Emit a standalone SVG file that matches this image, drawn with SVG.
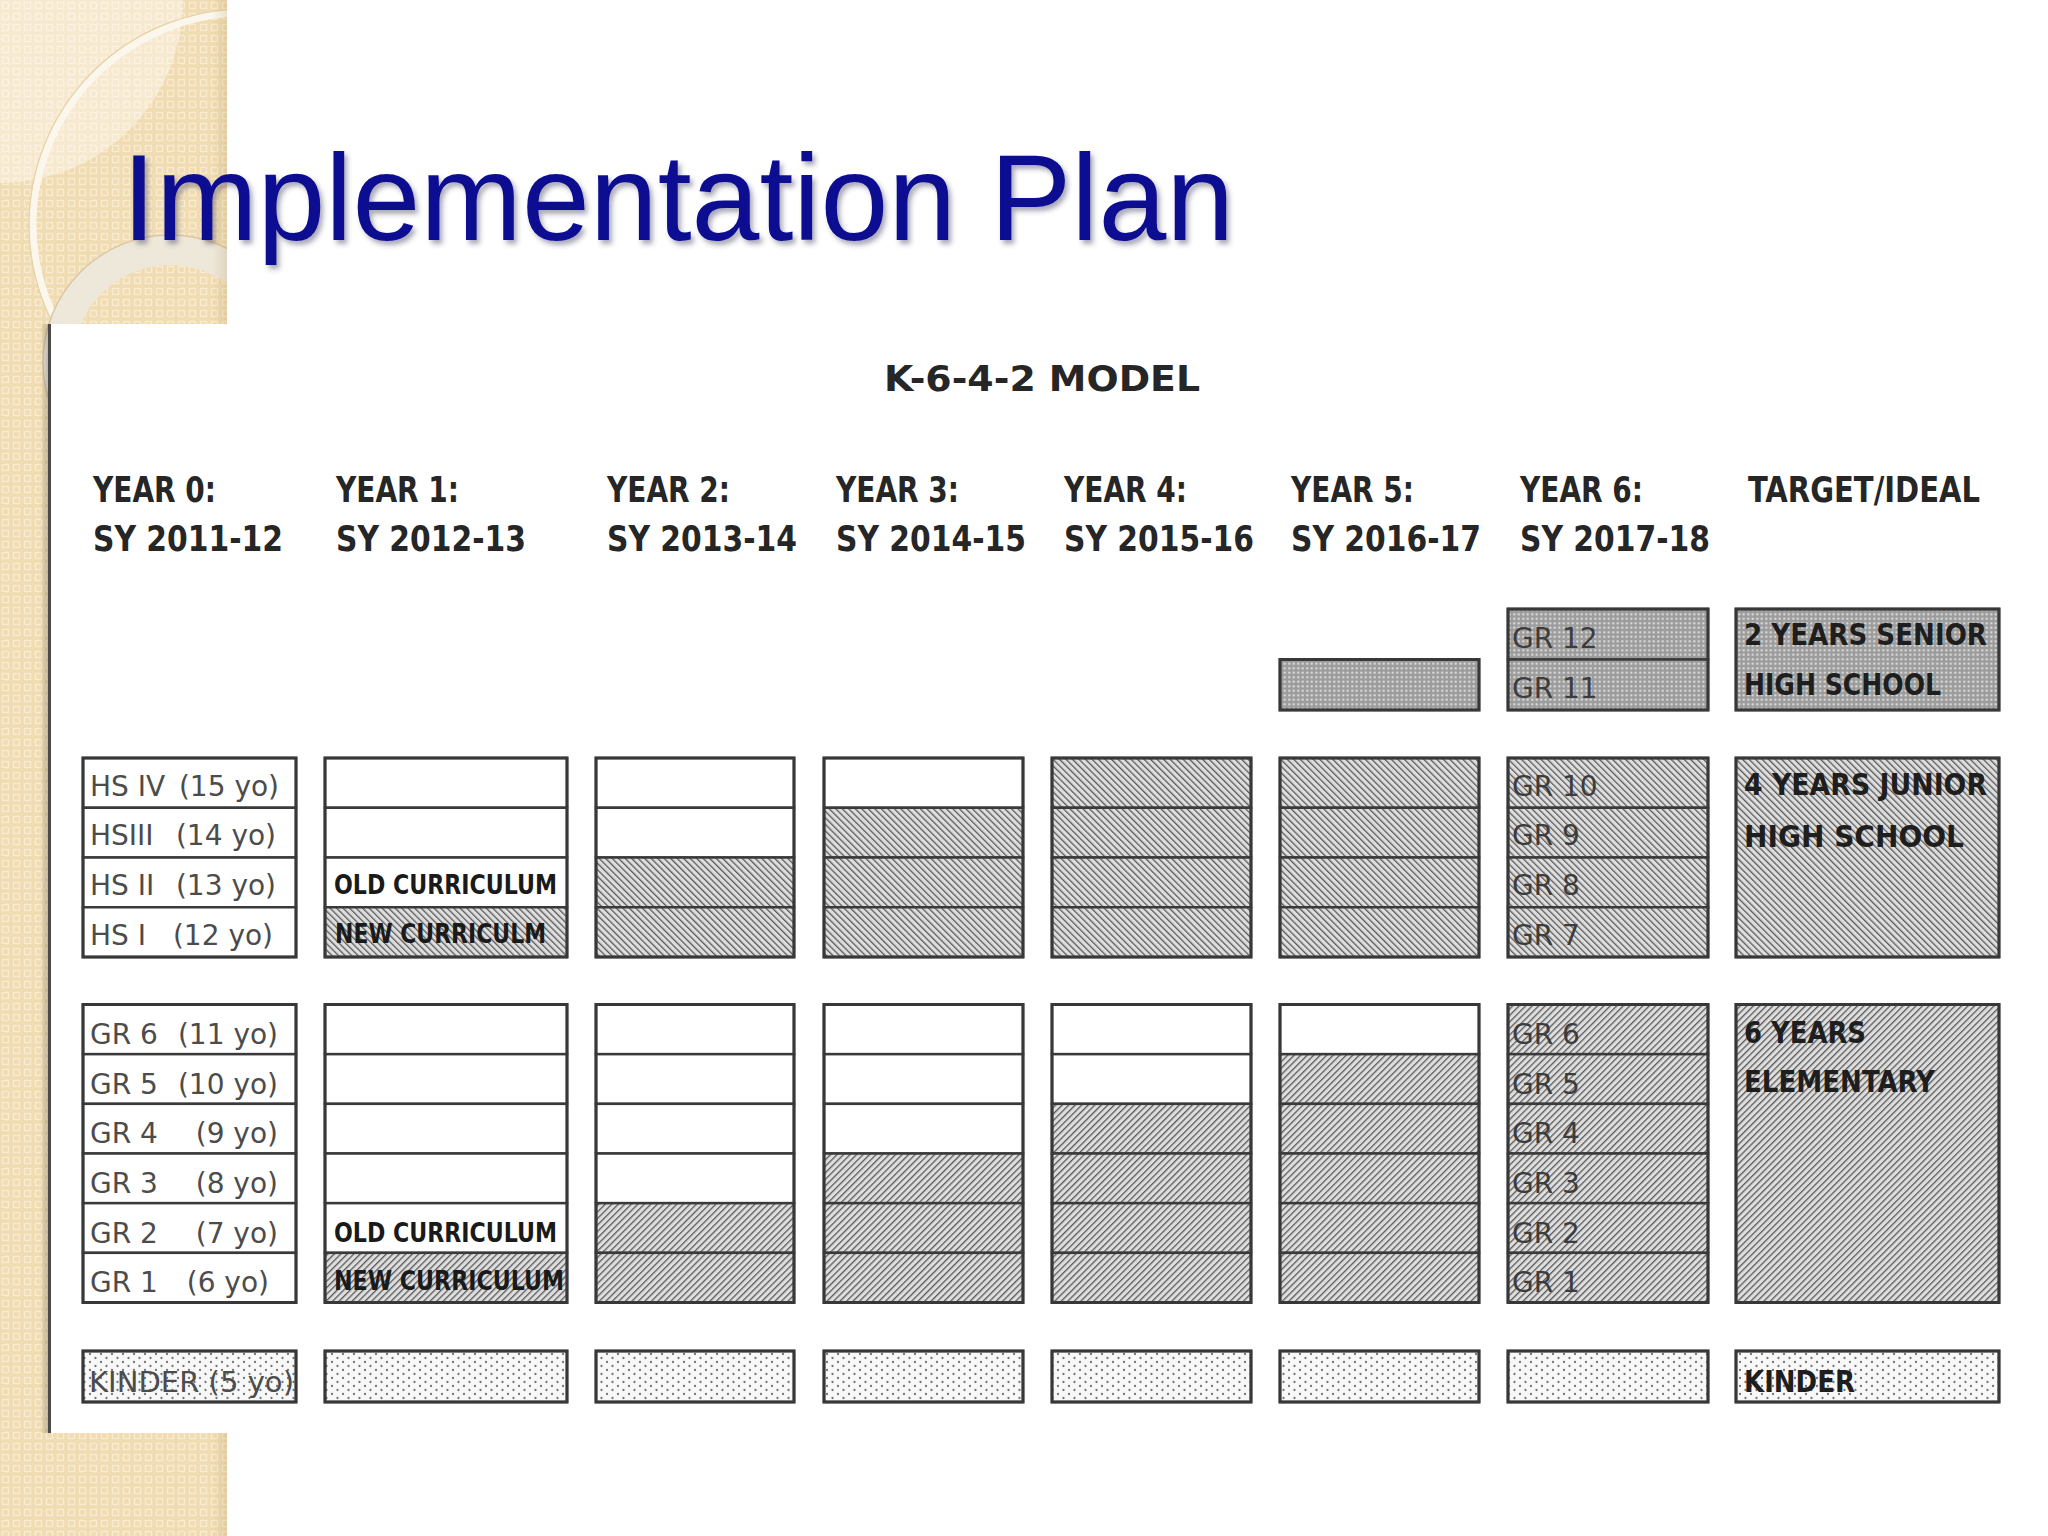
<svg xmlns="http://www.w3.org/2000/svg" width="2048" height="1536" viewBox="0 0 2048 1536">
<defs>
<pattern id="beige" patternUnits="userSpaceOnUse" width="11" height="11">
<rect width="11" height="11" fill="#f0dcb2"/>
<rect x="2.5" y="2.5" width="6" height="6" fill="none" stroke="#f8ebcf" stroke-width="1.5"/>
</pattern>
<pattern id="hatchB" patternUnits="userSpaceOnUse" width="4.6" height="4.6" patternTransform="rotate(-45)">
<rect width="4.6" height="4.6" fill="#dedede"/>
<rect width="1.3" height="4.6" fill="#595959"/>
</pattern>
<pattern id="hatchF" patternUnits="userSpaceOnUse" width="4.6" height="4.6" patternTransform="rotate(45)">
<rect width="4.6" height="4.6" fill="#dedede"/>
<rect width="1.3" height="4.6" fill="#595959"/>
</pattern>
<pattern id="dotsDark" patternUnits="userSpaceOnUse" width="4.5" height="4.5">
<rect width="4.5" height="4.5" fill="#9c9c9c"/>
<circle cx="2.25" cy="2.25" r="1.15" fill="#e0e0e0"/>
</pattern>
<pattern id="dotsLight" patternUnits="userSpaceOnUse" width="11" height="8">
<rect width="11" height="8" fill="#f8f8f8"/>
<circle cx="2" cy="2" r="1.15" fill="#767676"/>
<circle cx="7.5" cy="6" r="1.15" fill="#767676"/>
</pattern>
<clipPath id="stripClip"><rect x="0" y="0" width="227" height="1536"/></clipPath>
<linearGradient id="edgeShade" x1="0" y1="0" x2="1" y2="0">
<stop offset="0" stop-color="#a08040" stop-opacity="0"/>
<stop offset="1" stop-color="#a08040" stop-opacity="0.18"/>
</linearGradient>
<linearGradient id="panelShade" x1="0" y1="0" x2="1" y2="0">
<stop offset="0" stop-color="#000" stop-opacity="0"/>
<stop offset="1" stop-color="#000" stop-opacity="0.22"/>
</linearGradient>
<filter id="titleShadow" x="-5%" y="-20%" width="110%" height="150%">
<feDropShadow dx="3" dy="4" stdDeviation="2.5" flood-color="#404060" flood-opacity="0.45"/>
</filter>
<style>
.cell{stroke:#3a3a3a;stroke-width:2.5}
.outer{fill:none;stroke:#383838;stroke-width:3}
.w{fill:#ffffff}
.hb{fill:url(#hatchB)}
.hf{fill:url(#hatchF)}
.sd{fill:url(#dotsDark)}
.kd{fill:url(#dotsLight)}
.hdr{font-family:"DejaVu Sans Condensed","DejaVu Sans",sans-serif;font-weight:bold;font-size:35px;fill:#262626}
.lbl{font-family:"DejaVu Sans",sans-serif;font-size:28px;fill:#4c4c4c}
.glbl{font-family:"DejaVu Sans",sans-serif;font-size:28px;fill:#3c3c3c}
.cur{font-family:"DejaVu Sans Condensed","DejaVu Sans",sans-serif;font-weight:bold;font-size:26px;fill:#1a1a1a}
.tgt{font-family:"DejaVu Sans Condensed","DejaVu Sans",sans-serif;font-weight:bold;font-size:30px;fill:#1e1e1e}
</style>
</defs>

<!-- slide background -->
<rect x="0" y="0" width="2048" height="1536" fill="#ffffff"/>
<g id="beige-strip">
<rect x="0" y="0" width="227" height="1536" fill="url(#beige)"/>
<g clip-path="url(#stripClip)">
<path d="M0 0 L183 0 A183 183 0 0 1 0 183 Z" fill="#ffffff" opacity="0.38"/>
<circle cx="245" cy="225" r="212" fill="none" stroke="#fcf7ec" stroke-width="7"/>
<circle cx="245" cy="225" r="216" fill="none" stroke="#e6d2a8" stroke-width="1.2"/>
<circle cx="170" cy="362" r="112" fill="none" stroke="#eee8da" stroke-width="30"/>
<circle cx="170" cy="362" r="127" fill="none" stroke="#d8c7a4" stroke-width="1.5"/>
</g>
<rect x="212" y="0" width="15" height="1536" fill="url(#edgeShade)"/>
</g>

<!-- white panel holding the chart -->
<g id="panel">
<rect x="40" y="324" width="9" height="1109" fill="url(#panelShade)"/>
<rect x="48" y="324" width="2000" height="1109" fill="#ffffff"/>
<line x1="49.5" y1="324" x2="49.5" y2="1433" stroke="#4a4a4a" stroke-width="3"/>
</g>

<!-- title -->
<text id="title" x="122" y="240" font-family="'Liberation Sans',Arial,sans-serif" font-size="122" fill="#0b0b92" filter="url(#titleShadow)">Implementation Plan</text>

<g id="chart-title">
<text class="hdr" x="884" y="391" font-size="45" textLength="316" lengthAdjust="spacingAndGlyphs">K-6-4-2 MODEL</text>
</g>

<g id="headers">
<text class="hdr" x="93" y="502" textLength="123" lengthAdjust="spacingAndGlyphs">YEAR 0:</text>
<text class="hdr" x="93" y="551" textLength="190" lengthAdjust="spacingAndGlyphs">SY 2011-12</text>
<text class="hdr" x="336" y="502" textLength="123" lengthAdjust="spacingAndGlyphs">YEAR 1:</text>
<text class="hdr" x="336" y="551" textLength="190" lengthAdjust="spacingAndGlyphs">SY 2012-13</text>
<text class="hdr" x="607" y="502" textLength="123" lengthAdjust="spacingAndGlyphs">YEAR 2:</text>
<text class="hdr" x="607" y="551" textLength="190" lengthAdjust="spacingAndGlyphs">SY 2013-14</text>
<text class="hdr" x="836" y="502" textLength="123" lengthAdjust="spacingAndGlyphs">YEAR 3:</text>
<text class="hdr" x="836" y="551" textLength="190" lengthAdjust="spacingAndGlyphs">SY 2014-15</text>
<text class="hdr" x="1064" y="502" textLength="123" lengthAdjust="spacingAndGlyphs">YEAR 4:</text>
<text class="hdr" x="1064" y="551" textLength="190" lengthAdjust="spacingAndGlyphs">SY 2015-16</text>
<text class="hdr" x="1291" y="502" textLength="123" lengthAdjust="spacingAndGlyphs">YEAR 5:</text>
<text class="hdr" x="1291" y="551" textLength="190" lengthAdjust="spacingAndGlyphs">SY 2016-17</text>
<text class="hdr" x="1520" y="502" textLength="123" lengthAdjust="spacingAndGlyphs">YEAR 6:</text>
<text class="hdr" x="1520" y="551" textLength="190" lengthAdjust="spacingAndGlyphs">SY 2017-18</text>
<text class="hdr" x="1748" y="502" textLength="232" lengthAdjust="spacingAndGlyphs">TARGET/IDEAL</text>
</g>

<!-- SENIOR HIGH SCHOOL row -->
<g id="senior-y5">
<rect class="cell sd" x="1280" y="659.5" width="199" height="50.5"/>
<rect class="outer" x="1280" y="659.5" width="199" height="50.5"/>
</g>
<g id="senior-y6">
<rect class="cell sd" x="1508" y="609" width="200" height="50.5"/>
<rect class="cell sd" x="1508" y="659.5" width="200" height="50.5"/>
<rect class="outer" x="1508" y="609" width="200" height="101"/>
<text class="glbl" x="1512" y="648">GR 12</text>
<text class="glbl" x="1512" y="698">GR 11</text>
</g>
<g id="senior-target">
<rect class="cell sd" x="1736" y="609" width="263" height="101"/>
<rect class="outer" x="1736" y="609" width="263" height="101"/>
<text class="tgt" x="1744" y="645" textLength="243" lengthAdjust="spacingAndGlyphs">2 YEARS SENIOR</text>
<text class="tgt" x="1744" y="695" textLength="197" lengthAdjust="spacingAndGlyphs">HIGH SCHOOL</text>
</g>

<!-- JUNIOR HIGH SCHOOL rows -->
<g id="junior-y0">
<rect class="cell w" x="83" y="758" width="213" height="49.75"/>
<rect class="cell w" x="83" y="807.75" width="213" height="49.75"/>
<rect class="cell w" x="83" y="857.5" width="213" height="49.75"/>
<rect class="cell w" x="83" y="907.25" width="213" height="49.75"/>
<rect class="outer" x="83" y="758" width="213" height="199"/>
<text class="lbl" x="90" y="796">HS IV <tspan x="279" text-anchor="end">(15 yo)</tspan></text>
<text class="lbl" x="90" y="845">HSIII <tspan x="276" text-anchor="end">(14 yo)</tspan></text>
<text class="lbl" x="90" y="895">HS II <tspan x="276" text-anchor="end">(13 yo)</tspan></text>
<text class="lbl" x="90" y="945">HS I <tspan x="273" text-anchor="end">(12 yo)</tspan></text>
</g>
<g id="junior-y1">
<rect class="cell w" x="325" y="758" width="242" height="49.75"/>
<rect class="cell w" x="325" y="807.75" width="242" height="49.75"/>
<rect class="cell w" x="325" y="857.5" width="242" height="49.75"/>
<rect class="cell hb" x="325" y="907.25" width="242" height="49.75"/>
<rect class="outer" x="325" y="758" width="242" height="199"/>
<text class="cur" x="334" y="894" textLength="223" lengthAdjust="spacingAndGlyphs">OLD CURRICULUM</text>
<text class="cur" x="335" y="943" textLength="211" lengthAdjust="spacingAndGlyphs">NEW CURRICULM</text>
</g>
<g id="junior-y2">
<rect class="cell w" x="596" y="758" width="198" height="49.75"/>
<rect class="cell w" x="596" y="807.75" width="198" height="49.75"/>
<rect class="cell hb" x="596" y="857.5" width="198" height="49.75"/>
<rect class="cell hb" x="596" y="907.25" width="198" height="49.75"/>
<rect class="outer" x="596" y="758" width="198" height="199"/>
</g>
<g id="junior-y3">
<rect class="cell w" x="824" y="758" width="199" height="49.75"/>
<rect class="cell hb" x="824" y="807.75" width="199" height="49.75"/>
<rect class="cell hb" x="824" y="857.5" width="199" height="49.75"/>
<rect class="cell hb" x="824" y="907.25" width="199" height="49.75"/>
<rect class="outer" x="824" y="758" width="199" height="199"/>
</g>
<g id="junior-y4">
<rect class="cell hb" x="1052" y="758" width="199" height="49.75"/>
<rect class="cell hb" x="1052" y="807.75" width="199" height="49.75"/>
<rect class="cell hb" x="1052" y="857.5" width="199" height="49.75"/>
<rect class="cell hb" x="1052" y="907.25" width="199" height="49.75"/>
<rect class="outer" x="1052" y="758" width="199" height="199"/>
</g>
<g id="junior-y5">
<rect class="cell hb" x="1280" y="758" width="199" height="49.75"/>
<rect class="cell hb" x="1280" y="807.75" width="199" height="49.75"/>
<rect class="cell hb" x="1280" y="857.5" width="199" height="49.75"/>
<rect class="cell hb" x="1280" y="907.25" width="199" height="49.75"/>
<rect class="outer" x="1280" y="758" width="199" height="199"/>
</g>
<g id="junior-y6">
<rect class="cell hb" x="1508" y="758" width="200" height="49.75"/>
<rect class="cell hb" x="1508" y="807.75" width="200" height="49.75"/>
<rect class="cell hb" x="1508" y="857.5" width="200" height="49.75"/>
<rect class="cell hb" x="1508" y="907.25" width="200" height="49.75"/>
<rect class="outer" x="1508" y="758" width="200" height="199"/>
<text class="glbl" x="1512" y="796">GR 10</text>
<text class="glbl" x="1512" y="845">GR 9</text>
<text class="glbl" x="1512" y="895">GR 8</text>
<text class="glbl" x="1512" y="945">GR 7</text>
</g>
<g id="junior-target">
<rect class="cell hb" x="1736" y="758" width="263" height="199"/>
<rect class="outer" x="1736" y="758" width="263" height="199"/>
<text class="tgt" x="1744" y="795" textLength="243" lengthAdjust="spacingAndGlyphs">4 YEARS JUNIOR</text>
<text class="tgt" x="1744" y="847" textLength="220" lengthAdjust="spacingAndGlyphs">HIGH SCHOOL</text>
</g>

<!-- ELEMENTARY rows -->
<g id="elem-y0">
<rect class="cell w" x="83" y="1004.5" width="213" height="49.67"/>
<rect class="cell w" x="83" y="1054.17" width="213" height="49.67"/>
<rect class="cell w" x="83" y="1103.83" width="213" height="49.67"/>
<rect class="cell w" x="83" y="1153.5" width="213" height="49.67"/>
<rect class="cell w" x="83" y="1203.17" width="213" height="49.67"/>
<rect class="cell w" x="83" y="1252.83" width="213" height="49.67"/>
<rect class="outer" x="83" y="1004.5" width="213" height="298"/>
<text class="lbl" x="90" y="1044">GR 6 <tspan x="278" text-anchor="end">(11 yo)</tspan></text>
<text class="lbl" x="90" y="1094">GR 5 <tspan x="278" text-anchor="end">(10 yo)</tspan></text>
<text class="lbl" x="90" y="1143">GR 4 <tspan x="278" text-anchor="end">(9 yo)</tspan></text>
<text class="lbl" x="90" y="1193">GR 3 <tspan x="278" text-anchor="end">(8 yo)</tspan></text>
<text class="lbl" x="90" y="1243">GR 2 <tspan x="278" text-anchor="end">(7 yo)</tspan></text>
<text class="lbl" x="90" y="1292">GR 1 <tspan x="269" text-anchor="end">(6 yo)</tspan></text>
</g>
<g id="elem-y1">
<rect class="cell w" x="325" y="1004.5" width="242" height="49.67"/>
<rect class="cell w" x="325" y="1054.17" width="242" height="49.67"/>
<rect class="cell w" x="325" y="1103.83" width="242" height="49.67"/>
<rect class="cell w" x="325" y="1153.5" width="242" height="49.67"/>
<rect class="cell w" x="325" y="1203.17" width="242" height="49.67"/>
<rect class="cell hf" x="325" y="1252.83" width="242" height="49.67"/>
<rect class="outer" x="325" y="1004.5" width="242" height="298"/>
<text class="cur" x="334" y="1242" textLength="223" lengthAdjust="spacingAndGlyphs">OLD CURRICULUM</text>
<text class="cur" x="334" y="1290" textLength="230" lengthAdjust="spacingAndGlyphs">NEW CURRICULUM</text>
</g>
<g id="elem-y2">
<rect class="cell w" x="596" y="1004.5" width="198" height="49.67"/>
<rect class="cell w" x="596" y="1054.17" width="198" height="49.67"/>
<rect class="cell w" x="596" y="1103.83" width="198" height="49.67"/>
<rect class="cell w" x="596" y="1153.5" width="198" height="49.67"/>
<rect class="cell hf" x="596" y="1203.17" width="198" height="49.67"/>
<rect class="cell hf" x="596" y="1252.83" width="198" height="49.67"/>
<rect class="outer" x="596" y="1004.5" width="198" height="298"/>
</g>
<g id="elem-y3">
<rect class="cell w" x="824" y="1004.5" width="199" height="49.67"/>
<rect class="cell w" x="824" y="1054.17" width="199" height="49.67"/>
<rect class="cell w" x="824" y="1103.83" width="199" height="49.67"/>
<rect class="cell hf" x="824" y="1153.5" width="199" height="49.67"/>
<rect class="cell hf" x="824" y="1203.17" width="199" height="49.67"/>
<rect class="cell hf" x="824" y="1252.83" width="199" height="49.67"/>
<rect class="outer" x="824" y="1004.5" width="199" height="298"/>
</g>
<g id="elem-y4">
<rect class="cell w" x="1052" y="1004.5" width="199" height="49.67"/>
<rect class="cell w" x="1052" y="1054.17" width="199" height="49.67"/>
<rect class="cell hf" x="1052" y="1103.83" width="199" height="49.67"/>
<rect class="cell hf" x="1052" y="1153.5" width="199" height="49.67"/>
<rect class="cell hf" x="1052" y="1203.17" width="199" height="49.67"/>
<rect class="cell hf" x="1052" y="1252.83" width="199" height="49.67"/>
<rect class="outer" x="1052" y="1004.5" width="199" height="298"/>
</g>
<g id="elem-y5">
<rect class="cell w" x="1280" y="1004.5" width="199" height="49.67"/>
<rect class="cell hf" x="1280" y="1054.17" width="199" height="49.67"/>
<rect class="cell hf" x="1280" y="1103.83" width="199" height="49.67"/>
<rect class="cell hf" x="1280" y="1153.5" width="199" height="49.67"/>
<rect class="cell hf" x="1280" y="1203.17" width="199" height="49.67"/>
<rect class="cell hf" x="1280" y="1252.83" width="199" height="49.67"/>
<rect class="outer" x="1280" y="1004.5" width="199" height="298"/>
</g>
<g id="elem-y6">
<rect class="cell hf" x="1508" y="1004.5" width="200" height="49.67"/>
<rect class="cell hf" x="1508" y="1054.17" width="200" height="49.67"/>
<rect class="cell hf" x="1508" y="1103.83" width="200" height="49.67"/>
<rect class="cell hf" x="1508" y="1153.5" width="200" height="49.67"/>
<rect class="cell hf" x="1508" y="1203.17" width="200" height="49.67"/>
<rect class="cell hf" x="1508" y="1252.83" width="200" height="49.67"/>
<rect class="outer" x="1508" y="1004.5" width="200" height="298"/>
<text class="glbl" x="1512" y="1044">GR 6</text>
<text class="glbl" x="1512" y="1094">GR 5</text>
<text class="glbl" x="1512" y="1143">GR 4</text>
<text class="glbl" x="1512" y="1193">GR 3</text>
<text class="glbl" x="1512" y="1243">GR 2</text>
<text class="glbl" x="1512" y="1292">GR 1</text>
</g>
<g id="elem-target">
<rect class="cell hf" x="1736" y="1004.5" width="263" height="298"/>
<rect class="outer" x="1736" y="1004.5" width="263" height="298"/>
<text class="tgt" x="1744" y="1043" textLength="122" lengthAdjust="spacingAndGlyphs">6 YEARS</text>
<text class="tgt" x="1744" y="1092" textLength="191" lengthAdjust="spacingAndGlyphs">ELEMENTARY</text>
</g>

<!-- KINDER row -->
<g id="kinder-y0">
<rect class="cell kd" x="83" y="1351" width="213" height="51"/>
<rect class="outer" x="83" y="1351" width="213" height="51"/>
<text class="lbl" x="89" y="1392" fill="#333333" font-size="30" textLength="205" lengthAdjust="spacingAndGlyphs">KINDER (5 yo)</text>
</g>
<g id="kinder-y1"><rect class="cell kd" x="325" y="1351" width="242" height="51"/><rect class="outer" x="325" y="1351" width="242" height="51"/></g>
<g id="kinder-y2"><rect class="cell kd" x="596" y="1351" width="198" height="51"/><rect class="outer" x="596" y="1351" width="198" height="51"/></g>
<g id="kinder-y3"><rect class="cell kd" x="824" y="1351" width="199" height="51"/><rect class="outer" x="824" y="1351" width="199" height="51"/></g>
<g id="kinder-y4"><rect class="cell kd" x="1052" y="1351" width="199" height="51"/><rect class="outer" x="1052" y="1351" width="199" height="51"/></g>
<g id="kinder-y5"><rect class="cell kd" x="1280" y="1351" width="199" height="51"/><rect class="outer" x="1280" y="1351" width="199" height="51"/></g>
<g id="kinder-y6"><rect class="cell kd" x="1508" y="1351" width="200" height="51"/><rect class="outer" x="1508" y="1351" width="200" height="51"/></g>
<g id="kinder-target">
<rect class="cell kd" x="1736" y="1351" width="263" height="51"/>
<rect class="outer" x="1736" y="1351" width="263" height="51"/>
<text class="tgt" x="1744" y="1392" textLength="111" lengthAdjust="spacingAndGlyphs">KINDER</text>
</g>

<g id="connectors"/>
</svg>
